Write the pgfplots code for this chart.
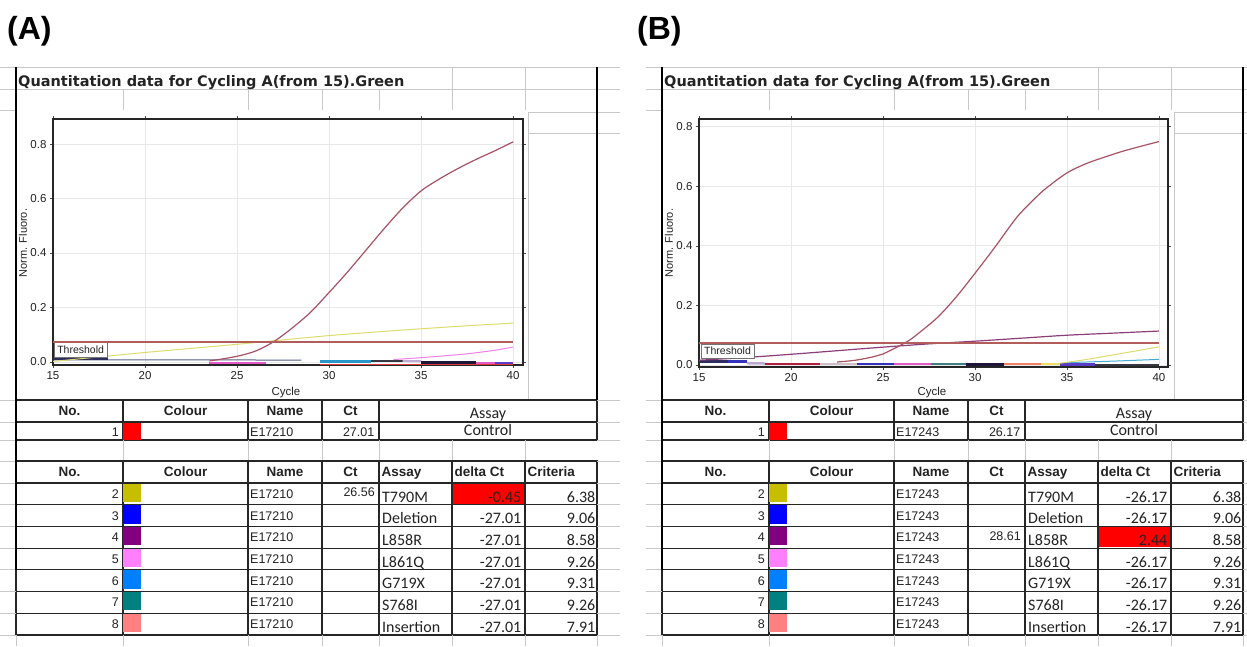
\documentclass[border=0pt]{standalone}
\usepackage{fontspec}
\setmainfont{Liberation Sans}
\newfontfamily\calibri{Carlito}
\newfontfamily\titlefont{DejaVu Sans}
\usepackage{pgfplots}
\pgfplotsset{compat=1.18}

\definecolor{ctrl}{RGB}{168,82,102}
\definecolor{thr}{RGB}{178,92,92}
\definecolor{ylw}{RGB}{222,220,110}
\definecolor{pnk}{RGB}{240,130,230}
\definecolor{prp}{RGB}{140,62,122}
\definecolor{ltblue}{RGB}{70,170,210}
\definecolor{cell}{RGB}{200,200,200}
\definecolor{gridc}{RGB}{232,232,232}
\definecolor{ink}{RGB}{35,35,35}
\definecolor{sw1}{RGB}{255,0,0}
\definecolor{sw2}{RGB}{200,190,0}
\definecolor{sw3}{RGB}{0,0,255}
\definecolor{sw4}{RGB}{128,0,128}
\definecolor{sw5}{RGB}{255,128,255}
\definecolor{sw6}{RGB}{0,128,255}
\definecolor{sw7}{RGB}{0,128,128}
\definecolor{sw8}{RGB}{255,128,128}
% colours of the flat traces near zero
\definecolor{bnavy}{RGB}{45,45,95}
\definecolor{bslate}{RGB}{85,95,135}
\definecolor{bmag}{RGB}{225,90,200}
\definecolor{bcyan}{RGB}{40,150,200}
\definecolor{bdark}{RGB}{55,55,65}
\definecolor{blav}{RGB}{190,170,210}
\definecolor{bblack}{RGB}{30,20,55}
\definecolor{bviol}{RGB}{90,60,200}
\definecolor{bred}{RGB}{220,60,60}
\definecolor{bcrim}{RGB}{176,32,64}
\definecolor{bgray}{RGB}{205,190,200}
\definecolor{bblue}{RGB}{50,50,190}
\definecolor{bteal}{RGB}{64,128,128}
\definecolor{bsalm}{RGB}{240,128,96}
\definecolor{bylw}{RGB}{240,224,96}

\newcommand\fs[1]{\fontsize{#1}{#1}\selectfont}

\pgfplotsset{qpcr/.style={
  scale only axis, anchor=south west,
  xmin=15, xtick={15,20,25,30,35,40}, ytick={0,0.2,0.4,0.6,0.8},
  grid=major, major grid style={draw=gridc, line width=0.8pt},
  axis line style={draw=black!85, line width=1.4pt},
  tick align=outside, major tick length=3pt,
  tick style={draw=black!70, line width=0.6pt},
  ticklabel style={font=\fs{11.5}, text=ink},
  /pgf/number format/assume math mode=true,
  yticklabel style={/pgf/number format/fixed, /pgf/number format/fixed zerofill, /pgf/number format/precision=1},
}}

% spreadsheet cells, chart background and table grid
\newcommand\chrome{%
  \draw[cell, line width=0.7pt] (0,67) -- (620,67) (0,89) -- (620,89) (0,110) -- (17,110);
  \foreach \c in {123,248,322,379} \draw[cell, line width=0.7pt] (\c,89) -- (\c,110);
  \foreach \c in {452,525} \draw[cell, line width=0.7pt] (\c,67) -- (\c,110);
  \node[anchor=base west, inner sep=0, font=\titlefont\bfseries\fs{14.5}, text=ink] at (18,86) {Quantitation data for Cycling A(from 15).Green};
  \fill[white] (17,110) rectangle (528,399);
  \draw[cell, line width=0.7pt] (528,112) -- (528,399) (528,112) -- (620,112) (528,133) -- (620,133);
  % table 1
  \draw[black!85, line width=1.1pt] (16,400) rectangle (597,440) (16,422) -- (597,422);
  \foreach \c in {123,248,322,379} \draw[black!85, line width=1.1pt] (\c,400) -- (\c,440);
  \foreach \c in {123,248,322,379,452,525} \draw[cell, line width=0.7pt] (\c,440) -- (\c,461);
  % table 2
  \draw[black!85, line width=1.1pt] (16,461) rectangle (597,635);
  \foreach \r in {483,504.7,526.4,548.1,569.8,591.5,613.2} \draw[black!85, line width=1.1pt] (16,\r) -- (597,\r);
  \foreach \c in {123,248,322,379,452,525} \draw[black!85, line width=1.1pt] (\c,461) -- (\c,635);
  \foreach \c in {16,123,248,322,379,452,525,597} \draw[cell, line width=0.7pt] (\c,635) -- (\c,646);
  \foreach \r in {400,422,440,461,483,504.7,526.4,548.1,569.8,591.5,613.2,635}
    {\draw[cell, line width=0.7pt] (0,\r) -- (16,\r) (597,\r) -- (620,\r);}
  \draw[black, line width=2.2pt] (16,67) -- (16,569.8);
  \draw[black, line width=2.2pt] (597,67) -- (597,400);
  % headers
  \begin{scope}[every node/.style={inner sep=0, text=ink}]
  \foreach \yb in {415.7,476.7} {
    \node[anchor=base, font=\bfseries\fs{13.5}] at (69.5,\yb) {No.};
    \node[anchor=base, font=\bfseries\fs{13.5}] at (185.5,\yb) {Colour};
    \node[anchor=base, font=\bfseries\fs{13.5}] at (285,\yb) {Name};
    \node[anchor=base, font=\bfseries\fs{13.5}] at (350.5,\yb) {Ct};
  }
  \node[anchor=base, font=\calibri\fs{16}] at (488,418.3) {Assay};
  \node[anchor=base, font=\calibri\fs{16}] at (488,435.7) {Control};
  \node[anchor=base west, font=\bfseries\fs{13.5}] at (381.5,476.7) {Assay};
  \node[anchor=base west, font=\bfseries\fs{13.5}] at (454.5,476.7) {delta Ct};
  \node[anchor=base west, font=\bfseries\fs{13.5}] at (527.5,476.7) {Criteria};
  \node[anchor=base east, font=\fs{12.5}] at (119,436.7) {1};
  \fill[sw1] (123,422.5) rectangle (140.5,439.5);
  \end{scope}
}

% #1 sample name, #2 control Ct, #3 top of the red row, #4 rows
\newcommand\tabtext[4]{%
  \begin{scope}[every node/.style={inner sep=0, text=ink}]
  \node[anchor=base west, font=\fs{12.5}] at (250,436.7) {#1};
  \node[anchor=base east, font=\fs{12.5}] at (374.5,436.7) {#2};
  \fill[sw1] (452.6,#3+0.6) rectangle (524.4,#3+21);
  \foreach \t/\n/\sw/\ct/\assay/\dct/\crit in {#4} {
    \fill[\sw] (123,\t+0.5) rectangle (140.5,\t+18.8);
    \node[anchor=base east, font=\fs{12.5}] at (119,\t+15.3) {\n};
    \node[anchor=base west, font=\fs{12.5}] at (250,\t+15.3) {#1};
    \node[anchor=base east, font=\fs{12.5}] at (375,\t+13.8) {\ct};
    \node[anchor=base west, font=\calibri\fs{16}] at (382,\t+19) {\assay};
    \node[anchor=base east, font=\calibri\fs{16}] at (521.5,\t+19) {\dct};
    \node[anchor=base east, font=\calibri\fs{16}] at (595.5,\t+19) {\crit};
  }
  \end{scope}
}

\begin{document}
\begin{tikzpicture}
\useasboundingbox (0,0) rectangle (1247pt,-646pt);
\clip (0,0) rectangle (1247pt,-646pt);
\fill[white] (0,0) rectangle (1247pt,-646pt);

\begin{scope}[x=1pt,y=-1pt]
  \node[anchor=base west, inner sep=0, font=\bfseries\fs{32}] at (7,39) {(A)};
  \node[anchor=base west, inner sep=0, font=\bfseries\fs{32}] at (637,39) {(B)};
\end{scope}

% ---------------- panel A ----------------
\begin{scope}[x=1pt,y=-1pt]
  \chrome
  \tabtext{E17210}{27.01}{483}{
    483/2/sw2/26.56/T790M/-0.45/6.38,
    504.7/3/sw3//Deletion/-27.01/9.06,
    526.4/4/sw4//L858R/-27.01/8.58,
    548.1/5/sw5//L861Q/-27.01/9.26,
    569.8/6/sw6//G719X/-27.01/9.31,
    591.5/7/sw7//S768I/-27.01/9.26,
    613.2/8/sw8//Insertion/-27.01/7.91}
  \node[rotate=90, font=\fs{11}, text=ink] at (23,243) {Norm. Fluoro.};
  \node[font=\fs{11.5}, text=ink] at (286,393) {Cycle};
\end{scope}

\begin{axis}[qpcr, at={(53pt,-365pt)}, width=470pt, height=246pt,
  xmax=40.54, ymin=-0.011, ymax=0.892]
% flat traces near zero
\addplot[bslate, line width=1pt] coordinates {(15,0.008) (22,0.008) (28.5,0.007)};
\addplot[bnavy, line width=2pt] coordinates {(15,0.01) (18,0.01)};
\addplot[bmag, line width=2pt] coordinates {(23.5,-0.004) (26.6,-0.004)};
\addplot[bred, line width=0.8pt] coordinates {(29.5,-0.008) (40,-0.008)};
\addplot[bcyan, line width=2.5pt] coordinates {(29.5,0.001) (32.3,0.001)};
\addplot[bdark, line width=2pt] coordinates {(32.3,0.004) (34,0.004)};
\addplot[blav, line width=2pt] coordinates {(34,0.004) (35,0.003)};
\addplot[bblack, line width=2.5pt] coordinates {(35,-0.002) (38,-0.002)};
\addplot[bmag, line width=2pt] coordinates {(38,-0.002) (39,-0.002)};
\addplot[bviol, line width=2pt] coordinates {(39,-0.003) (40,-0.003)};
% T790M
\addplot[ylw, line width=1pt, smooth] coordinates {
  (15,0.002) (18,0.022) (20,0.035) (22,0.047) (25,0.065) (27,0.078)
  (30,0.097) (32.5,0.11) (35,0.122) (37.5,0.133) (40,0.143)};
% L861Q
\addplot[pnk, line width=1pt, smooth] coordinates {
  (33.5,0.009) (35,0.016) (36.5,0.024) (37.5,0.03) (39,0.043) (40,0.055)};
% Control
\addplot[ctrl, line width=1.2pt, smooth] coordinates {
  (23.5,0.004) (24,0.009) (25,0.021) (26,0.04) (27,0.075) (28,0.125)
  (29,0.183) (30,0.255) (31,0.33) (32,0.41) (33,0.49) (34,0.565)
  (35,0.628) (36,0.672) (37,0.71) (38,0.744) (39,0.775) (40,0.808)};
\draw[draw=black!55, fill=white, line width=0.6pt] (axis cs:15.05,0.0175) rectangle (axis cs:17.95,0.073);
\node[font=\fs{10.5}, text=ink, inner sep=0] at (axis cs:16.5,0.045) {Threshold};
% threshold
\addplot[thr, line width=1.8pt] coordinates {(15,0.0745) (40,0.0745)};
\end{axis}

% ---------------- panel B ----------------
\begin{scope}[x=1pt,y=-1pt,xshift=646pt]
  \chrome
  \tabtext{E17243}{26.17}{526.4}{
    483/2/sw2//T790M/-26.17/6.38,
    504.7/3/sw3//Deletion/-26.17/9.06,
    526.4/4/sw4/28.61/L858R/2.44/8.58,
    548.1/5/sw5//L861Q/-26.17/9.26,
    569.8/6/sw6//G719X/-26.17/9.31,
    591.5/7/sw7//S768I/-26.17/9.26,
    613.2/8/sw8//Insertion/-26.17/7.91}
  \node[rotate=90, font=\fs{11}, text=ink] at (23,243) {Norm. Fluoro.};
  \node[font=\fs{11.5}, text=ink] at (286,393) {Cycle};
\end{scope}

\begin{axis}[qpcr, at={(699pt,-367pt)}, width=469pt, height=248pt,
  xmax=40.49, ymin=-0.0067, ymax=0.8258]
% flat traces near zero
\addplot[bnavy, line width=2.5pt] coordinates {(15,0.012) (16.6,0.012)};
\addplot[bblue, line width=2.5pt] coordinates {(16.6,0.012) (17.6,0.012)};
\addplot[blav, line width=2.5pt] coordinates {(17.6,0.006) (18.6,0.005)};
\addplot[bcrim, line width=2.5pt] coordinates {(18.6,0.003) (21.6,0.003)};
\addplot[bgray, line width=2.5pt] coordinates {(21.6,0.004) (23.6,0.004)};
\addplot[bblue, line width=2.5pt] coordinates {(23.6,0.003) (25.6,0.003)};
\addplot[bmag, line width=2.5pt] coordinates {(25.6,0.003) (27.6,0.003)};
\addplot[bteal, line width=2.5pt] coordinates {(27.6,0.004) (29.5,0.004)};
\addplot[bblack, line width=2.5pt] coordinates {(29.5,0.001) (31.6,0.001)};
\addplot[bsalm, line width=2.5pt] coordinates {(31.6,0.003) (33.6,0.003)};
\addplot[bylw, line width=2.5pt] coordinates {(33.6,0.004) (34.6,0.004)};
\addplot[bviol, line width=2.5pt] coordinates {(34.6,0.002) (36.5,0.002)};
\addplot[bdark, line width=1.5pt] coordinates {(36.5,0.0) (40,0.0)};
\addplot[ltblue, line width=1pt, smooth] coordinates {(35,0.008) (37.5,0.013) (40,0.019)};
% T790M
\addplot[ylw, line width=1pt, smooth] coordinates {
  (34.5,0.005) (36,0.018) (37.5,0.034) (39,0.05) (40,0.061)};
% L858R
\addplot[prp, line width=1.2pt, smooth] coordinates {
  (15,0.016) (17.5,0.025) (20,0.036) (22.5,0.048) (25,0.06) (27.5,0.071)
  (30,0.08) (32.5,0.09) (35,0.1) (37.5,0.107) (40,0.114)};
% Control
\addplot[ctrl, line width=1.2pt, smooth] coordinates {
  (22.5,0.01) (23.5,0.016) (24.5,0.028) (25,0.037) (26.3,0.078) (27,0.11)
  (28,0.162) (29,0.23) (30,0.308) (31.1,0.397) (32.3,0.498) (33.4,0.568)
  (34,0.6) (35,0.645) (36,0.675) (37,0.697) (38,0.717) (39,0.734) (40,0.75)};
\draw[draw=black!55, fill=white, line width=0.6pt] (axis cs:15.1,0.0235) rectangle (axis cs:17.99,0.0705);
\node[font=\fs{10.5}, text=ink, inner sep=0] at (axis cs:16.55,0.047) {Threshold};
% threshold
\addplot[thr, line width=1.8pt] coordinates {(15,0.075) (40,0.075)};
\end{axis}
\end{tikzpicture}
\end{document}
